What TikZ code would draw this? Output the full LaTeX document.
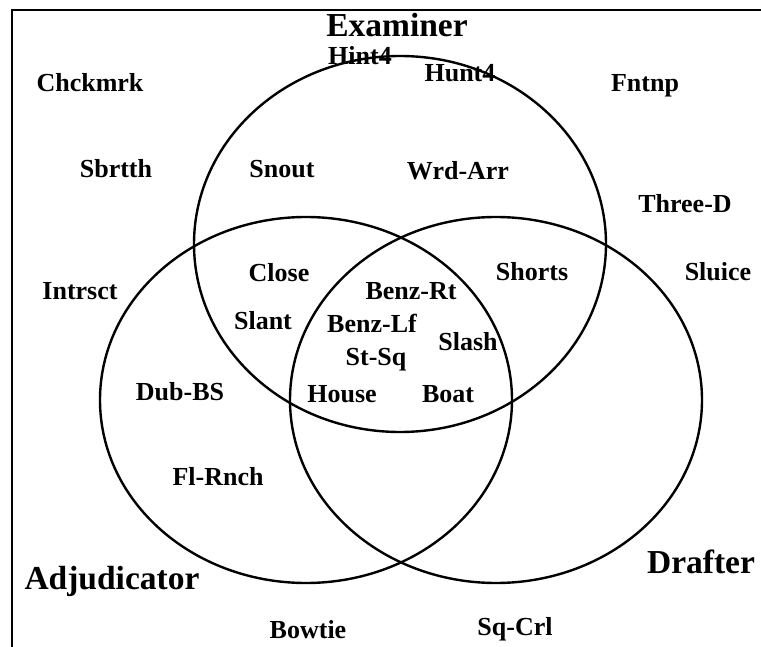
\documentclass[tikz,border=0pt]{standalone}
\usepackage{fontspec}
\setmainfont{Liberation Serif}
\begin{document}
\begin{tikzpicture}[x=1pt,y=-1pt,
  setline/.style={line width=2.4pt},
  framel/.style={line width=2pt},
  item/.style={anchor=base,inner sep=0pt,font=\fontsize{26}{26}\selectfont\bfseries},
  setname/.style={anchor=base,inner sep=0pt,font=\fontsize{33.5}{33.5}\selectfont\bfseries}]
\useasboundingbox (0,0) rectangle (761,647);

% frame (top and left edges)
\coordinate (fl) at (12,647);
\coordinate (fc) at (12,10);
\coordinate (fr) at (761,10);
\draw[framel] (fl) -- (fc) -- (fr);

% the three sets
\draw[setline] (400,244) ellipse [x radius=206, y radius=188];
\draw[setline] (306,400) ellipse [x radius=206, y radius=183];
\draw[setline] (496,400) ellipse [x radius=206, y radius=183];

% set names
\node[setname] (examiner) at (397,37) {Examiner};
\node[setname] (adjudicator) at (112,589) {Adjudicator};
\node[setname] (drafter) at (701,573) {Drafter};

% elements
\node[item] (chckmrk) at (90,92) {Chckmrk};
\node[item] (hint4) at (360,65) {Hint4};
\node[item] (hunt4) at (460,82) {Hunt4};
\node[item] (fntnp) at (645,92) {Fntnp};
\node[item] (sbrtth) at (116,178) {Sbrtth};
\node[item] (snout) at (282,178) {Snout};
\node[item] (wrdarr) at (458,180) {Wrd-Arr};
\node[item] (threed) at (685,213) {Three-D};
\node[item] (intrsct) at (80,300) {Intrsct};
\node[item] (close) at (279,282) {Close};
\node[item] (benzrt) at (411,300) {Benz-Rt};
\node[item] (shorts) at (532,281) {Shorts};
\node[item] (sluice) at (718,281) {Sluice};
\node[item] (slant) at (263,330) {Slant};
\node[item] (benzlf) at (372,333) {Benz-Lf};
\node[item] (slash) at (468,350) {Slash};
\node[item] (stsq) at (376,365) {St-Sq};
\node[item] (dubbs) at (180,400) {Dub-BS};
\node[item] (house) at (342,402) {House};
\node[item] (boat) at (448,402) {Boat};
\node[item] (flrnch) at (218,485) {Fl-Rnch};
\node[item] (bowtie) at (308,638) {Bowtie};
\node[item] (sqcrl) at (515,635) {Sq-Crl};
\end{tikzpicture}
\end{document}
